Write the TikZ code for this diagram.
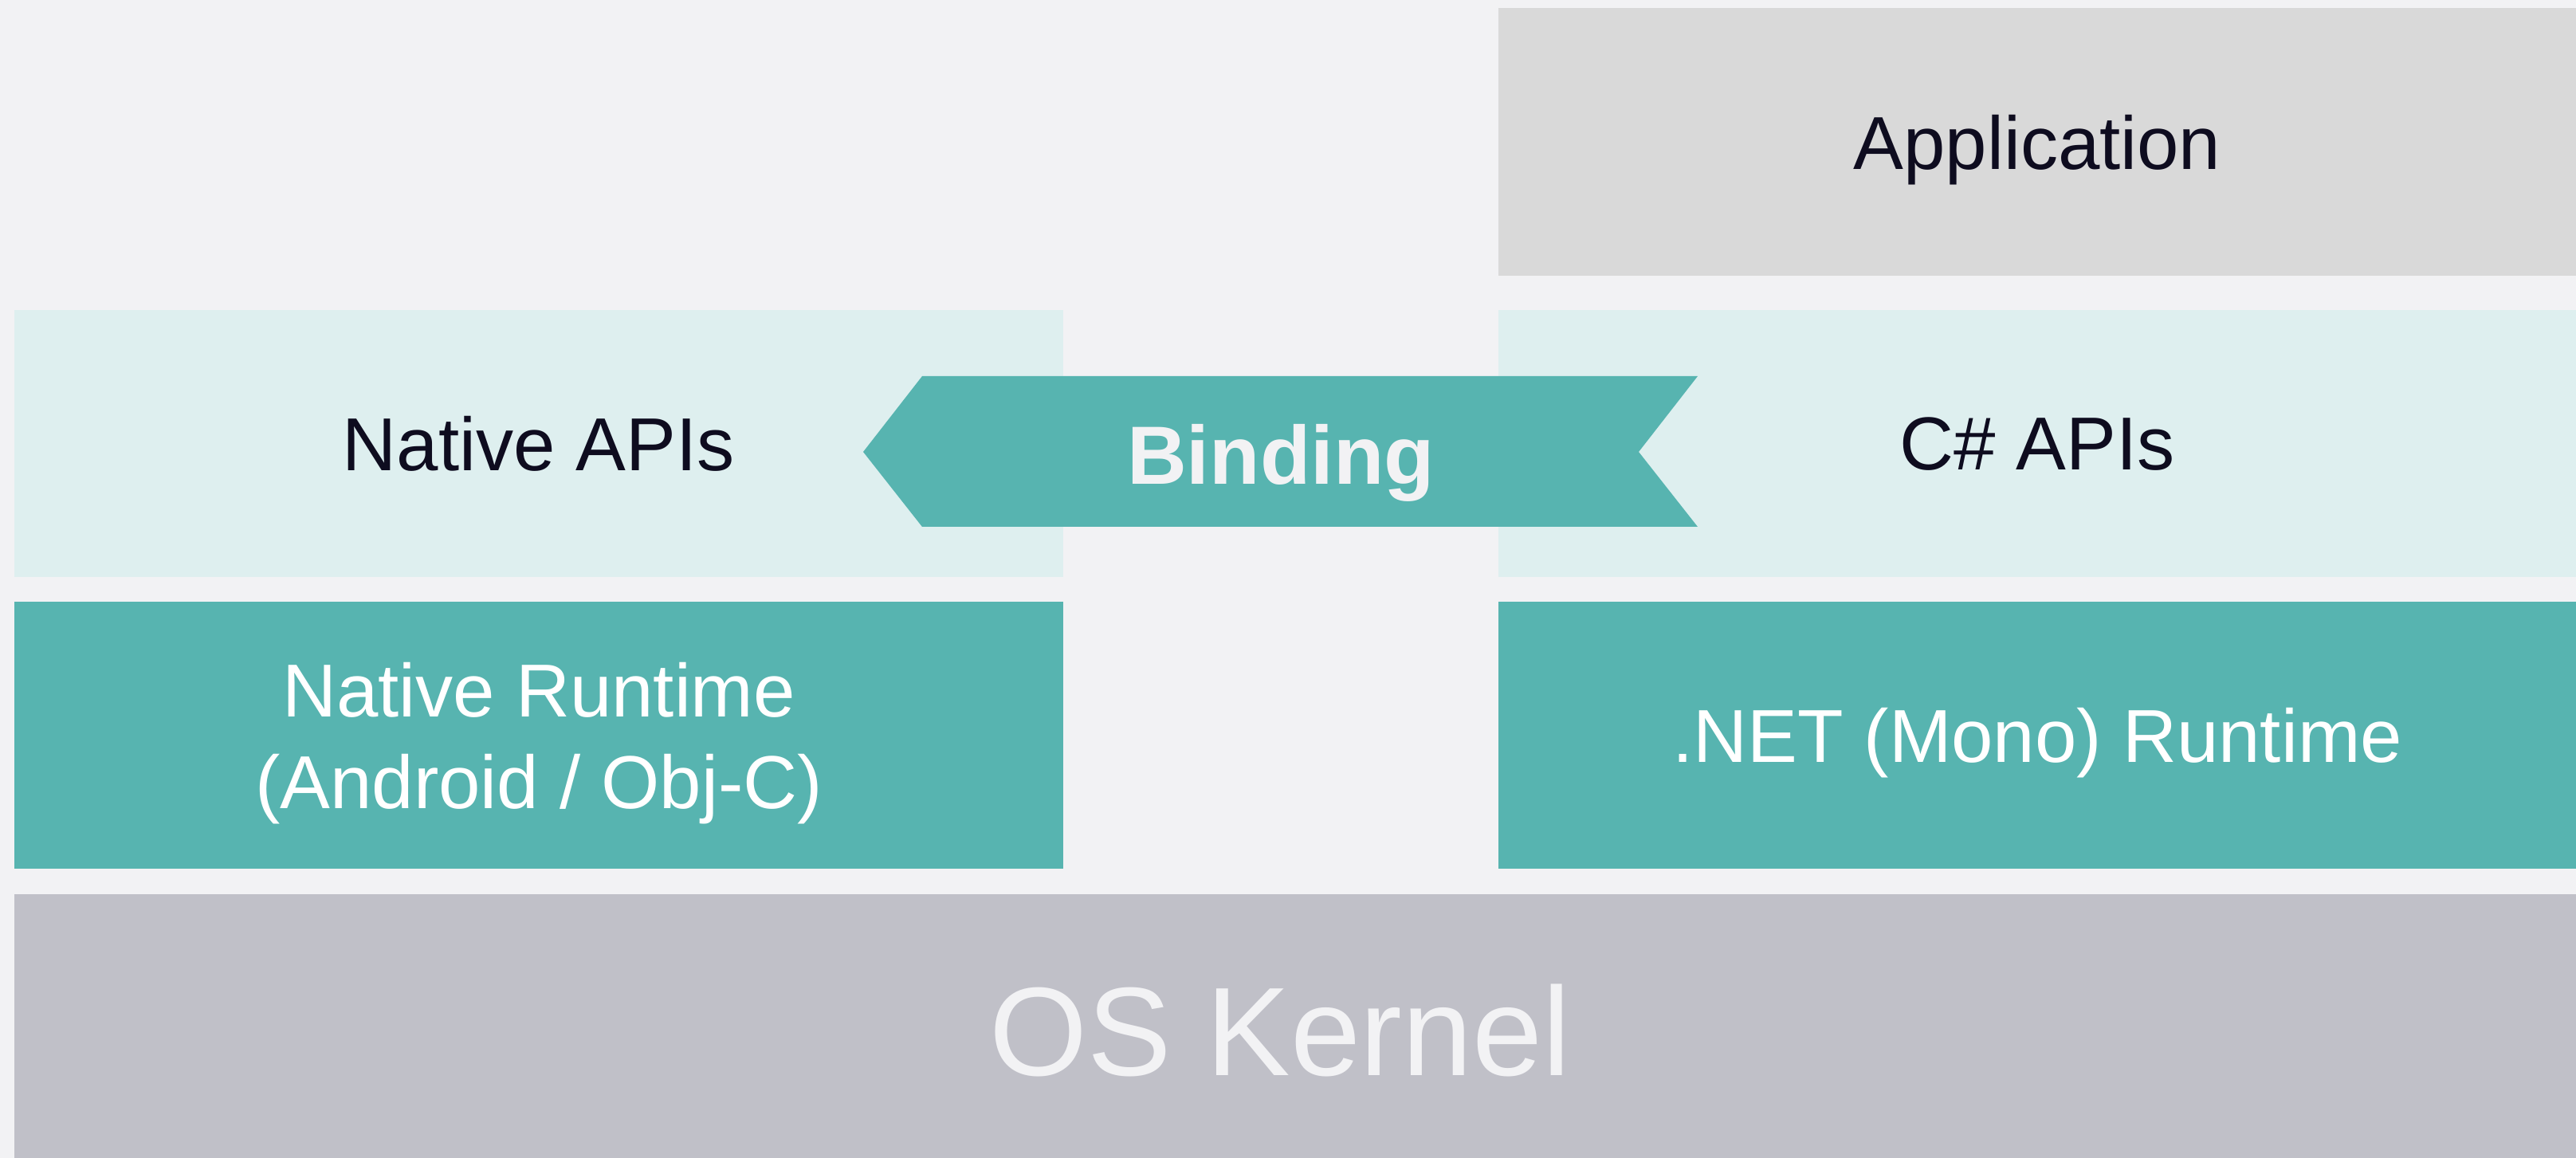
\documentclass[tikz,border=0pt]{standalone}
\usepackage{fontspec}
\setmainfont{Liberation Sans}
\definecolor{bggray}{HTML}{F2F2F4}
\definecolor{appgray}{HTML}{D9D9D9}
\definecolor{lightteal}{HTML}{DEEFEF}
\definecolor{teal}{HTML}{57B4B0}
\definecolor{kernelgray}{HTML}{C0C0C8}
\definecolor{inkdark}{HTML}{0E0C1F}

\begin{document}
\begin{tikzpicture}[x=1cm,y=-1cm,
layer/.style={inner sep=0pt,align=center,text depth=0pt,font=\fontsize{26.8}{32.7}\selectfont},
apibox/.style={layer,fill=lightteal,text=inkdark,minimum width=13.16cm,minimum height=3.35cm},
rtbox/.style={layer,fill=teal,text=white,minimum width=13.16cm,minimum height=3.35cm}]
\fill[bggray] (0,0) rectangle (32.32,14.53);
\useasboundingbox (0,0) rectangle (32.32,14.53);
% top row
\node[layer,fill=appgray,text=inkdark,minimum width=13.52cm,minimum height=3.36cm] (app) at (25.56,1.78) {Application};
% api layer
\node[apibox] (napi) at (6.76,5.565) {Native APIs};
\node[apibox,minimum width=13.52cm] (capi) at (25.56,5.565) {C\# APIs};
% runtimes
\node[rtbox] (nrt) at (6.76,9.225) {Native Runtime\\(Android / Obj-C)};
\node[rtbox,minimum width=13.52cm] (mrt) at (25.56,9.225) {.NET (Mono) Runtime};
% kernel
\fill[kernelgray] (0.18,11.22) rectangle (32.32,14.53);
\node[text=bggray,font=\fontsize{45}{54}\selectfont] (kern) at (16.06,12.93) {OS Kernel};
% binding arrow
\fill[teal] (10.83,5.67) -- (11.57,4.72) -- (21.30,4.72) -- (20.56,5.67) -- (21.30,6.61) -- (11.57,6.61) -- cycle;
\node[text=bggray,text depth=0pt,font=\fontsize{29.5}{35}\selectfont\bfseries] (bind) at (16.07,5.70) {Binding};
\end{tikzpicture}
\end{document}
